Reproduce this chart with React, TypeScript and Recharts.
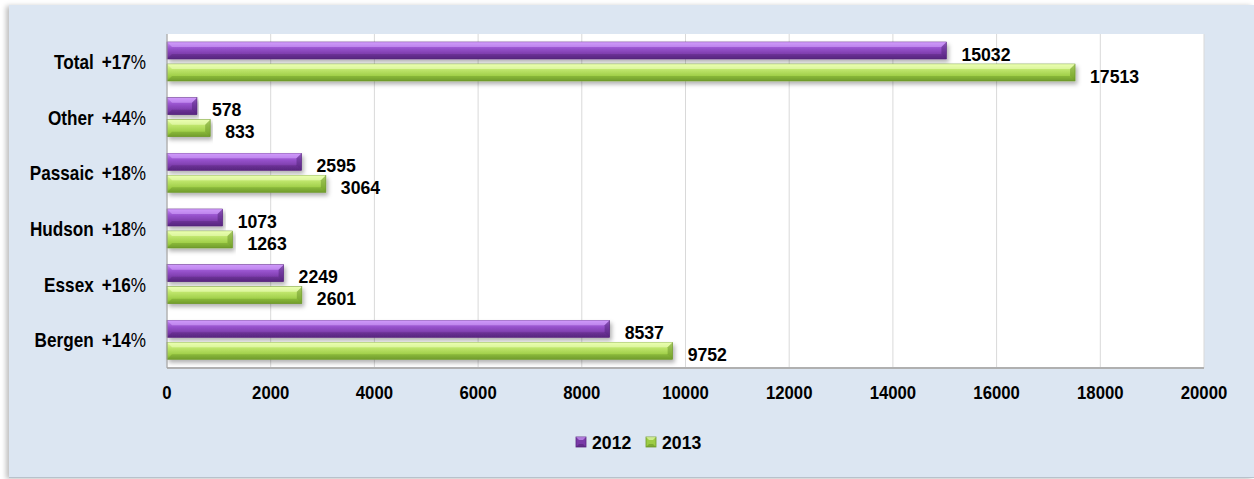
import React from 'react'
import { BarChart, Bar, XAxis, YAxis, CartesianGrid, LabelList } from 'recharts'

const counties = ['Total', 'Other', 'Passaic', 'Hudson', 'Essex', 'Bergen']
const growth = ['+17', '+44', '+18', '+18', '+16', '+14']
const values2012 = [15032, 578, 2595, 1073, 2249, 8537]
const values2013 = [17513, 833, 3064, 1263, 2601, 9752]
const xTicks = [0, 2000, 4000, 6000, 8000, 10000, 12000, 14000, 16000, 18000, 20000]

const FONT = '"Liberation Sans", Arial, sans-serif'

const data = counties.map((name, i) => ({
  name,
  growth: growth[i],
  y2012: values2012[i],
  y2013: values2013[i],
}))

const SERIES = [
  { key: 'y2012', label: '2012', grad: 'gPurple', edge: '#5a2680', light: '#d6a6ff', dark: '#4a1f6e', swatch: '#7a3aa8' },
  { key: 'y2013', label: '2013', grad: 'gGreen', edge: '#6f9a2c', light: '#efffc0', dark: '#5f8a22', swatch: '#9ccc44' },
]

function bevelBar(s: (typeof SERIES)[number]) {
  return (props: any) => {
    const { x, y, width, height } = props
    if (!width || width <= 0) return <g />
    const b = Math.min(5, height / 3, width / 2)
    return (
      <g filter="url(#barShadow)">
        <rect x={x} y={y} width={width} height={height} fill={`url(#${s.grad})`} stroke={s.edge} strokeWidth={0.6} />
        <polygon points={`${x},${y} ${x + width},${y} ${x + width - b},${y + b} ${x + b},${y + b}`} fill={s.light} opacity={0.55} />
        <polygon points={`${x + width},${y} ${x + width},${y + height} ${x + width - b},${y + height - b} ${x + width - b},${y + b}`} fill={s.dark} opacity={0.45} />
        <polygon points={`${x},${y + height} ${x + width},${y + height} ${x + width - b},${y + height - b} ${x + b},${y + height - b}`} fill={s.dark} opacity={0.35} />
      </g>
    )
  }
}

function CountyTick(props: any) {
  const { x, y, payload, index } = props
  const g = growth[index] ?? data.find((d) => d.name === payload.value)?.growth
  return (
    <g transform={`translate(${x - 19},${y + 7}) scale(0.88,1)`}>
      <text x={0} y={0} textAnchor="end" fontFamily={FONT} fontSize={19.5} fill="#000">
        <tspan fontWeight="bold">{payload.value}</tspan>
        <tspan fontWeight="bold" dx={9}>{g}</tspan>
        <tspan fontWeight="normal">%</tspan>
      </text>
    </g>
  )
}

function ValueTick(props: any) {
  const { x, y, payload } = props
  return (
    <g transform={`translate(${x},${y + 31}) scale(0.93,1)`}>
      <text x={0} y={0} textAnchor="middle" fontFamily={FONT} fontSize={18} fontWeight="bold" fill="#000">
        {payload.value}
      </text>
    </g>
  )
}

function valueLabel(props: any) {
  const { x, y, width, height, value } = props
  return (
    <g transform={`translate(${x + width + 15},${y + height / 2 + 10}) scale(0.93,1)`}>
      <text x={0} y={0} fontFamily={FONT} fontSize={19} fontWeight="bold" fill="#000">
        {value}
      </text>
    </g>
  )
}

export default function App() {
  return (
    <div style={{ position: 'absolute', left: 0, top: 0, width: 1254, height: 479, background: '#fff', overflow: 'hidden' }}>
      <div
        style={{
          position: 'absolute',
          left: 9,
          top: 5,
          width: 1245,
          height: 472,
          background: '#dce6f2',
          boxShadow: '-3px 1px 5px rgba(0,0,0,0.25)',
          borderBottom: '1px solid #b8c2cc',
        }}
      >
        <BarChart
          width={1245}
          height={472}
          data={data}
          layout="vertical"
          margin={{ top: 29, right: 50, bottom: 0, left: 0 }}
          barSize={17}
          barGap={5}
        >
          <defs>
            <linearGradient id="gPurple" x1="0" y1="0" x2="0" y2="1">
              <stop offset="0" stopColor="#c98cf6" />
              <stop offset="0.35" stopColor="#9a55d0" />
              <stop offset="0.75" stopColor="#7a3aa8" />
              <stop offset="1" stopColor="#5e2a88" />
            </linearGradient>
            <linearGradient id="gGreen" x1="0" y1="0" x2="0" y2="1">
              <stop offset="0" stopColor="#e6ffa0" />
              <stop offset="0.35" stopColor="#bde46a" />
              <stop offset="0.75" stopColor="#9ccc44" />
              <stop offset="1" stopColor="#7aa632" />
            </linearGradient>
            <filter id="barShadow" x="-5%" y="-30%" width="110%" height="180%">
              <feDropShadow dx="2" dy="3" stdDeviation="2" floodColor="#000" floodOpacity="0.3" />
            </filter>
          </defs>
          <CartesianGrid horizontal={false} stroke="#d9d9d9" fill="#ffffff" />
          <XAxis
            type="number"
            domain={[0, 20000]}
            ticks={xTicks}
            interval={0}
            height={109}
            axisLine={{ stroke: '#b0b0b0', strokeWidth: 2 }}
            tickLine={false}
            tickSize={0}
            tickMargin={0}
            tick={<ValueTick />}
          />
          <YAxis
            type="category"
            dataKey="name"
            width={158}
            axisLine={{ stroke: '#a0a0a0' }}
            tickLine={false}
            tickSize={0}
            tick={<CountyTick />}
          />
          {SERIES.map((s) => (
            <Bar key={s.key} dataKey={s.key} name={s.label} shape={bevelBar(s)} isAnimationActive={false}>
              <LabelList dataKey={s.key} content={valueLabel} />
            </Bar>
          ))}
        </BarChart>
        <svg style={{ position: 'absolute', left: 0, top: 420, overflow: 'visible' }} width={1245} height={40}>
          {SERIES.map((s, i) => {
            const sx = 567 + i * 70
            return (
              <g key={s.key}>
                <rect x={sx} y={12} width={10} height={10} fill={s.swatch} stroke={s.edge} strokeWidth={0.8} />
                <polygon points={`${sx},${12} ${sx + 10},${12} ${sx + 7},${15} ${sx + 3},${15}`} fill={s.light} opacity={0.6} />
                <polygon points={`${sx},${22} ${sx + 10},${22} ${sx + 7},${19} ${sx + 3},${19}`} fill={s.dark} opacity={0.5} />
                <g transform={`translate(${sx + 16},24) scale(0.93,1)`}>
                  <text x={0} y={0} fontFamily={FONT} fontSize={19} fontWeight="bold" fill="#000">
                    {s.label}
                  </text>
                </g>
              </g>
            )
          })}
        </svg>
      </div>
    </div>
  )
}
